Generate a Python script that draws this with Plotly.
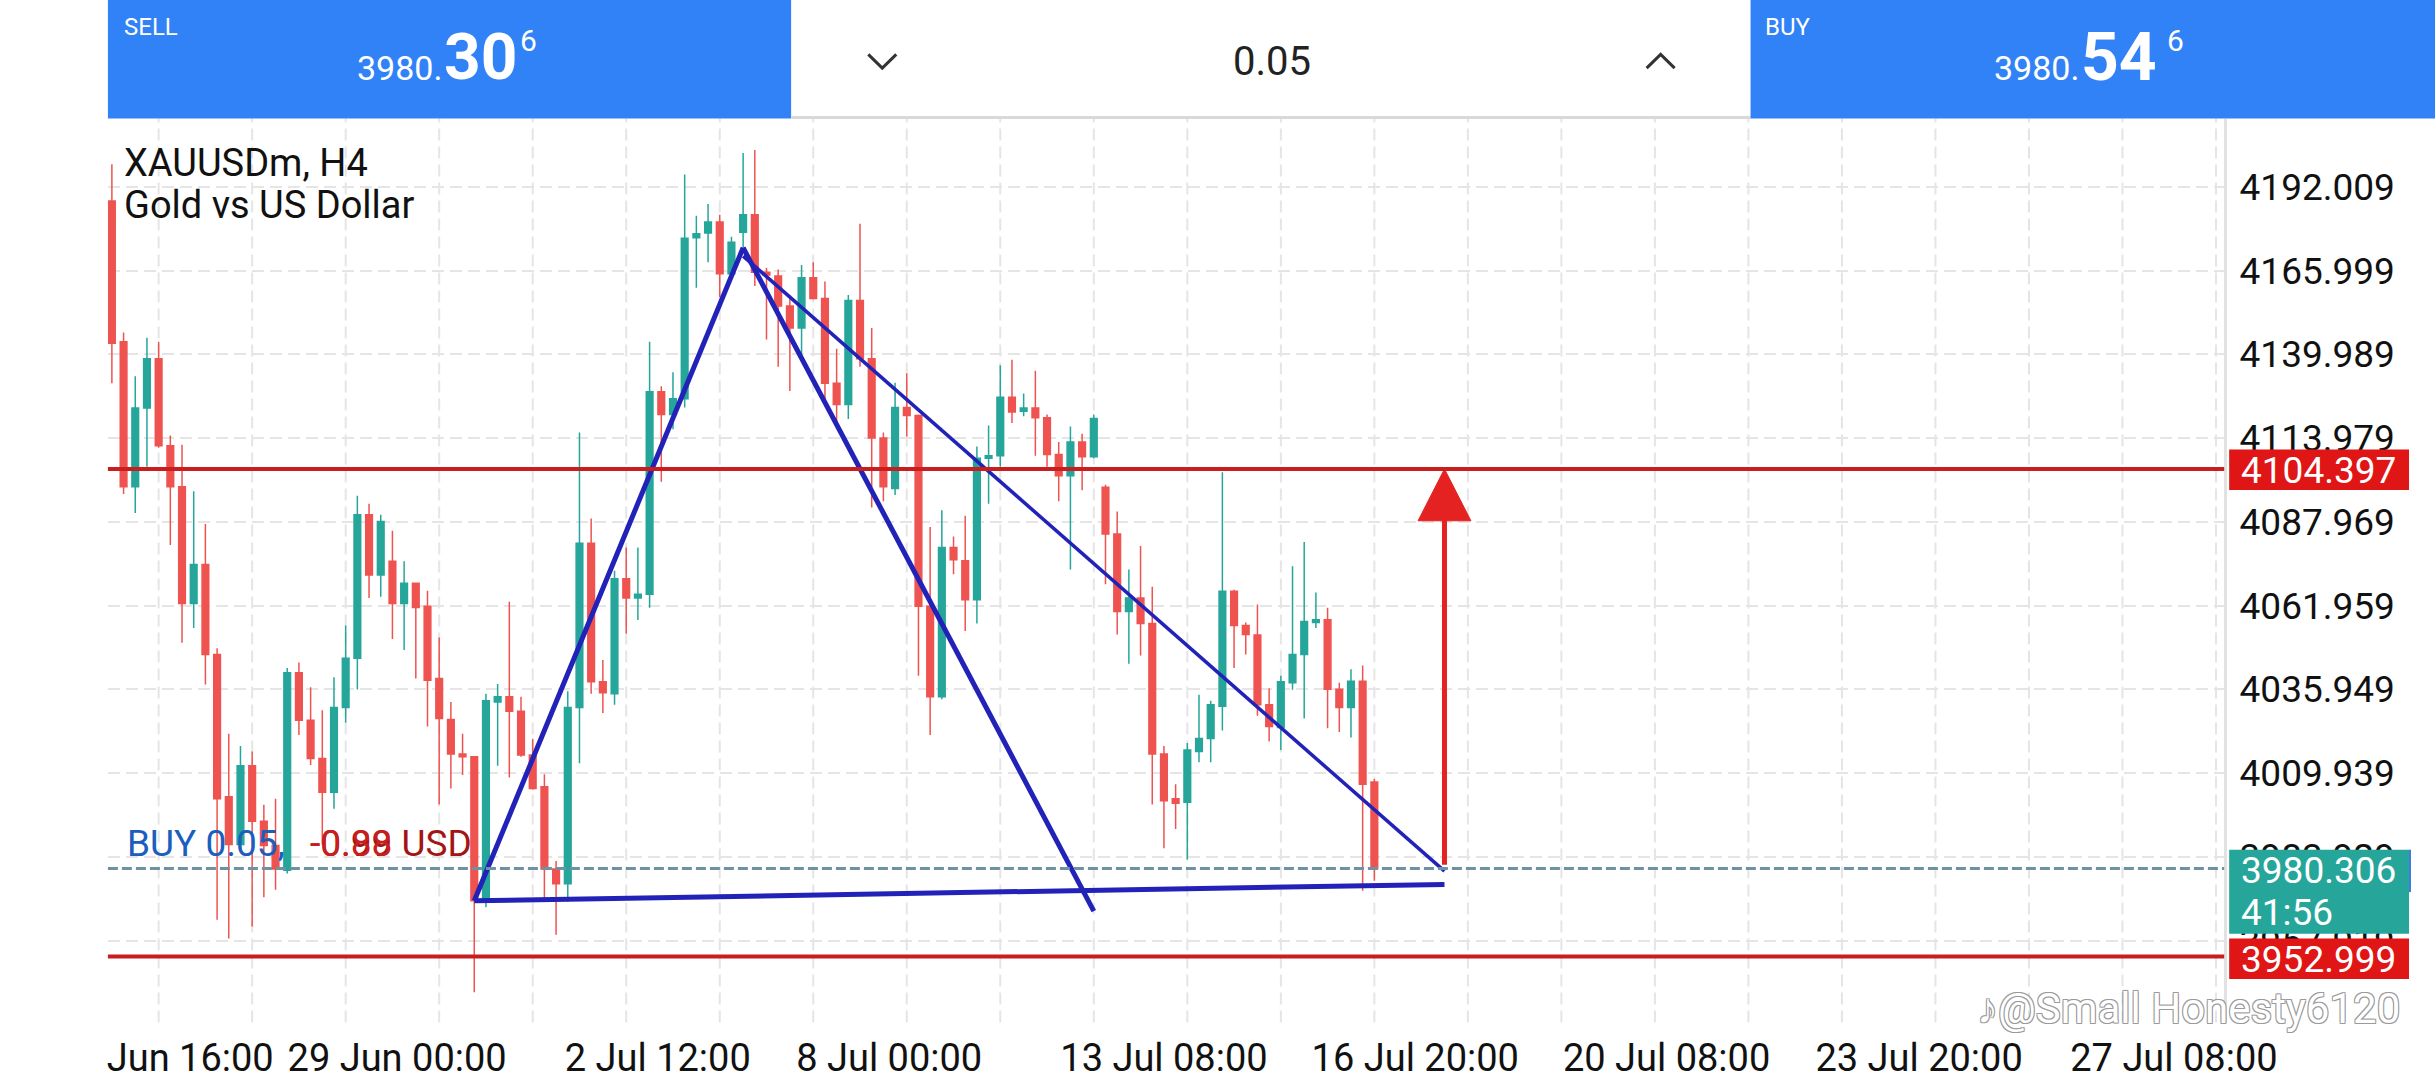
import plotly.graph_objects as go

W, H = 2436, 1080
FIG_W = 2488  # the page gets photographed a little wider than the window and scaled back

# H4 candles, left to right (index 1 = first visible candle)
opens = [4187.6, 4143.9, 4098.9, 4123.3, 4138.6, 4111.6, 4098.9, 4062.6, 4074.7, 4046.8,
         4002.6, 3987.8, 4012.2, 3995.0, 3987.5, 3979.8, 4041.1, 4026.4, 4014.5, 4004.0,
         4030.3, 4045.6, 4090.2, 4071.5, 4075.7, 4062.6, 4068.9, 4061.8, 4039.3, 4026.6,
         4015.9, 4015.0, 3970.3, 4032.0, 4033.7, 4029.2, 4015.6, 4005.7, 3980.2, 3975.6,
         4030.3, 4081.3, 4038.3, 4034.6, 4070.3, 4064.3, 4065.5, 4128.4, 4121.3, 4126.2,
         4176.2, 4177.7, 4181.1, 4165.0, 4177.9, 4183.3, 4165.5, 4164.3, 4155.0, 4148.2,
         4163.8, 4157.3, 4131.0, 4124.4, 4156.7, 4138.6, 4114.0, 4098.3, 4123.5, 4121.0,
         4061.8, 4033.7, 4080.0, 4075.9, 4063.8, 4107.7, 4108.5, 4126.7, 4122.3, 4123.3,
         4120.3, 4108.9, 4102.3, 4112.8, 4108.2, 4098.7, 4084.2, 4060.1, 4064.3, 4056.4,
         4015.9, 4002.0, 4000.9, 4016.7, 4020.7, 4030.7, 4066.4, 4055.8, 4052.8, 4031.2,
         4024.1, 4038.0, 4046.8, 4056.7, 4057.6, 4036.0, 4030.3, 4038.5, 4007.2]
highs = [4199.0, 4146.8, 4133.2, 4145.1, 4143.9, 4114.8, 4111.9, 4097.5, 4087.3, 4048.7,
         4022.2, 4018.4, 4016.7, 4000.1, 4002.0, 4042.6, 4044.3, 4036.6, 4029.5, 4039.7,
         4055.8, 4096.1, 4093.6, 4090.2, 4085.2, 4075.7, 4069.0, 4066.6, 4052.1, 4032.0,
         4022.2, 4015.3, 4034.6, 4037.6, 4063.2, 4033.7, 4020.6, 4009.6, 3982.7, 4035.4,
         4115.7, 4089.0, 4045.1, 4072.8, 4080.0, 4080.0, 4143.9, 4130.1, 4134.4, 4195.8,
         4183.0, 4186.7, 4183.3, 4176.5, 4202.5, 4203.4, 4166.9, 4166.3, 4158.4, 4167.7,
         4168.6, 4162.6, 4141.7, 4158.4, 4180.5, 4148.2, 4115.7, 4131.2, 4134.0, 4121.3,
         4086.4, 4091.6, 4083.4, 4089.9, 4111.4, 4117.9, 4136.6, 4138.3, 4127.8, 4134.9,
         4121.3, 4112.8, 4117.6, 4115.3, 4121.3, 4099.5, 4091.2, 4073.2, 4080.5, 4067.8,
         4018.4, 4006.5, 4019.3, 4034.3, 4032.4, 4103.4, 4066.9, 4056.7, 4062.3, 4036.3,
         4040.2, 4074.2, 4081.7, 4066.0, 4061.3, 4038.0, 4042.2, 4043.4, 4008.1]
lows = [4131.0, 4096.6, 4090.7, 4105.1, 4111.0, 4080.8, 4050.4, 4055.0, 4037.5, 3964.4,
        3958.6, 3986.1, 3962.3, 3971.4, 3973.7, 3978.8, 4021.8, 4012.5, 3987.8, 3998.9,
        4025.6, 4035.9, 4064.3, 4064.7, 4051.6, 4048.2, 4039.3, 4024.4, 4000.2, 4005.2,
        4009.4, 3941.9, 3968.3, 4012.2, 4008.6, 4015.0, 4004.8, 3970.8, 3959.8, 3970.0,
        4013.0, 4034.6, 4028.6, 4031.2, 4053.3, 4057.5, 4061.3, 4100.4, 4116.7, 4123.5,
        4160.7, 4168.6, 4157.8, 4164.8, 4173.1, 4161.2, 4144.6, 4136.1, 4128.6, 4140.0,
        4157.0, 4125.9, 4118.7, 4119.9, 4136.1, 4092.4, 4094.4, 4096.3, 4114.5, 4040.2,
        4021.8, 4032.9, 4071.7, 4054.1, 4056.4, 4093.6, 4105.1, 4118.7, 4120.8, 4108.5,
        4105.1, 4094.4, 4073.2, 4097.8, 4107.7, 4068.6, 4053.0, 4043.9, 4046.5, 4000.2,
        3986.6, 3992.6, 3983.1, 4013.3, 4013.3, 4023.2, 4042.6, 4046.8, 4027.8, 4019.8,
        4017.1, 4035.8, 4026.9, 4055.0, 4023.9, 4022.7, 4021.0, 3973.4, 3976.5]
closes = [4143.4, 4098.9, 4123.3, 4138.6, 4111.6, 4098.9, 4062.6, 4074.7, 4046.8, 4002.0,
          3987.8, 4012.2, 3995.0, 3987.5, 3980.2, 4041.1, 4026.4, 4014.5, 4004.0, 4030.3,
          4045.6, 4090.2, 4071.5, 4088.1, 4062.6, 4068.9, 4061.4, 4038.8, 4026.9, 4015.9,
          4015.0, 3970.3, 4032.4, 4033.7, 4029.2, 4015.6, 4005.2, 3980.2, 3975.6, 4030.3,
          4081.3, 4038.3, 4034.9, 4070.3, 4064.3, 4065.5, 4128.4, 4121.3, 4126.2, 4176.0,
          4177.4, 4181.1, 4165.0, 4174.8, 4183.3, 4165.5, 4164.6, 4155.0, 4148.2, 4163.8,
          4157.3, 4131.0, 4124.4, 4156.7, 4138.6, 4114.0, 4098.9, 4123.5, 4121.0, 4061.8,
          4033.7, 4080.0, 4076.2, 4063.8, 4107.7, 4108.5, 4126.7, 4122.1, 4123.3, 4120.3,
          4108.9, 4102.3, 4112.8, 4108.2, 4120.1, 4084.2, 4060.1, 4064.3, 4056.4, 4015.9,
          4001.4, 4000.6, 4017.1, 4020.7, 4031.2, 4066.4, 4055.8, 4053.0, 4031.2, 4024.4,
          4038.3, 4046.8, 4057.0, 4057.6, 4036.0, 4030.3, 4038.5, 4006.5, 3980.306]
candle_idx = list(range(1, len(opens) + 1))

# axes
price_ticks = [4192.009, 4165.999, 4139.989, 4113.979, 4087.969,
               4061.959, 4035.949, 4009.939, 3983.929, 3957.919]
time_labels = ["Jun 16:00", "29 Jun 00:00", "2 Jul 12:00", "8 Jul 00:00", "13 Jul 08:00",
               "16 Jul 20:00", "20 Jul 08:00", "23 Jul 20:00", "27 Jul 08:00"]
time_label_pos = [7.7, 25.4, 47.7, 67.5, 91.0, 112.5, 134.0, 155.6, 177.4]

# trade / levels
bid, ask = 3980.306, 3980.546
tp_level = 4104.397
sl_level = 3952.999
countdown = "41:56"
lot = "0.05"
profit_text = "-0.99 USD"

# hand-drawn objects (candle index, price)
up_x, up_y = [32, 55], [3970.3, 4173.1]
down_x, down_y = [55, 85], [4173.1, 3967.1]
wedge_x, wedge_y = [55, 115], [4170.5, 3979.5]
base_x, base_y = [32, 115], [3970.3, 3975.4]
arrow_x, arrow_from, arrow_head, arrow_half = 115, 3981.5, 4088.3, 2.26

GREEN, RED = "#26A69A", "#EF5350"
BLUE_BAR = "#3182F6"
LINE_BLUE = "#2222B8"
LEVEL_RED = "#C81E1E"
FONT = "Roboto"


def px(x):
    return x / W


def py(y):
    return 1 - y / H


fig = go.Figure()

fig.add_trace(go.Candlestick(
    x=candle_idx, open=opens, high=highs, low=lows, close=closes,
    increasing=dict(line=dict(color=GREEN, width=1.5), fillcolor=GREEN),
    decreasing=dict(line=dict(color=RED, width=1.5), fillcolor=RED),
    whiskerwidth=0, showlegend=False, hoverinfo="skip"))

for xs, ys, w in [(up_x, up_y, 5), (down_x, down_y, 5), (wedge_x, wedge_y, 3.5), (base_x, base_y, 5)]:
    fig.add_trace(go.Scatter(x=xs, y=ys, mode="lines", line=dict(color=LINE_BLUE, width=w),
                             showlegend=False, hoverinfo="skip"))

# red arrow up to the target level
fig.add_trace(go.Scatter(x=[arrow_x, arrow_x], y=[arrow_from, arrow_head + 2], mode="lines",
                         line=dict(color="#E52222", width=5), showlegend=False, hoverinfo="skip"))
fig.add_trace(go.Scatter(x=[arrow_x - arrow_half, arrow_x + arrow_half, arrow_x, arrow_x - arrow_half],
                         y=[arrow_head, arrow_head, tp_level, arrow_head], mode="lines",
                         fill="toself", fillcolor="#E52222", line=dict(color="#E52222", width=1),
                         showlegend=False, hoverinfo="skip"))

shapes = []
# vertical dashed grid every 8 candles
for g in range(5, 182, 8):
    shapes.append(dict(type="line", xref="x", yref="paper", x0=g, x1=g, y0=py(1035), y1=py(120),
                       line=dict(color="#E5E5E5", width=2, dash="12px,6px"), layer="below"))

# level lines
for lvl in [tp_level, sl_level]:
    shapes.append(dict(type="line", xref="x domain", yref="y", x0=0, x1=1, y0=lvl, y1=lvl,
                       line=dict(color=LEVEL_RED, width=4), layer="above"))
shapes.append(dict(type="line", xref="x domain", yref="y", x0=0, x1=1, y0=bid, y1=bid,
                   line=dict(color="#6F92A3", width=3, dash="10px,4px"), layer="above"))

# price badges on the right
shapes.append(dict(type="rect", xref="paper", yref="paper", x0=px(2230), x1=px(2410),
                   y0=py(496), y1=py(455), fillcolor="#E01515", line=dict(width=0), layer="above"))
shapes.append(dict(type="rect", xref="paper", yref="paper", x0=px(2230), x1=px(2410),
                   y0=py(945), y1=py(860), fillcolor="#26A69A", line=dict(width=0), layer="above"))
shapes.append(dict(type="line", xref="paper", yref="paper", x0=px(2411), x1=px(2411),
                   y0=py(903), y1=py(860), line=dict(color="#3D7FE0", width=2), layer="above"))
shapes.append(dict(type="rect", xref="paper", yref="paper", x0=px(2230), x1=px(2410),
                   y0=py(991), y1=py(950), fillcolor="#E01515", line=dict(width=0), layer="above"))

# top trade bar
shapes.append(dict(type="rect", xref="paper", yref="paper", x0=px(107), x1=px(791),
                   y0=py(120), y1=1, fillcolor=BLUE_BAR, line=dict(width=0), layer="above"))
shapes.append(dict(type="rect", xref="paper", yref="paper", x0=px(791), x1=px(1751),
                   y0=py(120), y1=1, fillcolor="white", line=dict(width=0), layer="above"))
shapes.append(dict(type="line", xref="paper", yref="paper", x0=px(791), x1=px(1751),
                   y0=py(119), y1=py(119), line=dict(color="#D9D9D9", width=3), layer="above"))
shapes.append(dict(type="rect", xref="paper", yref="paper", x0=px(1751), x1=1,
                   y0=py(120), y1=1, fillcolor=BLUE_BAR, line=dict(width=0), layer="above"))
chev_down = "M {:.5f},{:.5f} L {:.5f},{:.5f} L {:.5f},{:.5f}".format(
    px(868), py(55), px(882), py(69), px(896), py(55))
chev_up = "M {:.5f},{:.5f} L {:.5f},{:.5f} L {:.5f},{:.5f}".format(
    px(1647), py(69), px(1661), py(55), px(1675), py(69))
for p in [chev_down, chev_up]:
    shapes.append(dict(type="path", xref="paper", yref="paper", path=p,
                       line=dict(color="#333333", width=3), layer="above"))

ann = []


def text(x, y, s, size, color, anchor="left", weight="normal", shadow=None):
    f = dict(family=FONT, size=size, color=color, weight=weight)
    if shadow:
        f["shadow"] = shadow
    ann.append(dict(x=px(x), y=py(y), xref="paper", yref="paper", text=s, showarrow=False,
                    xanchor=anchor, yanchor="middle", font=f))


sell_txt = f"{bid:.3f}"
buy_txt = f"{ask:.3f}"
# SELL box
text(121, 27, "SELL", 24, "white")
text(443, 69, sell_txt[:5], 34, "white", "right")
text(441, 58, sell_txt[5:7], 64, "white", "left", "bold")
text(517, 41, sell_txt[7], 30, "white")
# lot box
text(1272, 62, lot, 40, "#222222", "center")
# BUY box
text(1763, 27, "BUY", 24, "white")
text(2082, 69, buy_txt[:5], 34, "white", "right")
text(2080, 58, buy_txt[5:7], 66, "white", "left", "bold")
text(2166, 41, buy_txt[7], 30, "white")

# symbol header
text(121, 165, "XAUUSDm, H4", 38, "#111111")
text(121, 207, "Gold vs US Dollar", 38, "#111111")

# open position label
text(124, 854, "BUY " + lot + ",", 37, "#1B5EBE")
text(307, 854, profit_text, 37, "#A31515")
text(307, 854, "-0.88", 37, "#C81E1E")

# badge texts
text(2240, 476, f"{tp_level:.3f}", 37, "white")
text(2240, 881, f"{bid:.3f}", 37, "white")
text(2240, 924, countdown, 37, "white")
text(2240, 971, f"{sl_level:.3f}", 37, "white")

# watermark
text(1976, 1021, "♪@Small Honesty6120", 42, "white", "left", "normal",
     "-1px -1px 0 #9a9a9a, 1px -1px 0 #9a9a9a, -1px 1px 0 #9a9a9a, 1px 1px 0 #9a9a9a")

fig.update_layout(
    width=FIG_W, height=H,
    margin=dict(l=0, r=0, t=0, b=0, pad=0),
    paper_bgcolor="white", plot_bgcolor="white",
    boxgap=0.43, boxgroupgap=0,
    shapes=shapes, annotations=ann,
    xaxis=dict(domain=[px(107), px(2225)], range=[0.66, 181.7],
               tickvals=time_label_pos, ticktext=time_labels, ticks="",
               tickfont=dict(family=FONT, size=38, color="#111111"),
               ticklabelstandoff=9, showgrid=False, zeroline=False, showline=False,
               rangeslider=dict(visible=False), fixedrange=True),
    yaxis=dict(domain=[py(1035), py(120)], range=[3932.5, 4213.2], side="right",
               tickvals=price_ticks, ticktext=[f"{v:.3f}" for v in price_ticks], ticks="",
               tickfont=dict(family=FONT, size=37, color="#111111"), ticklabelstandoff=5,
               showgrid=True, gridcolor="#E5E5E5", gridwidth=2, griddash="12px,6px",
               zeroline=False, showline=True, linecolor="#E2E2E2", linewidth=3, fixedrange=True),
)

fig.write_html("out.html", config={"displayModeBar": False},
               post_script="document.body.style.margin='0';")
